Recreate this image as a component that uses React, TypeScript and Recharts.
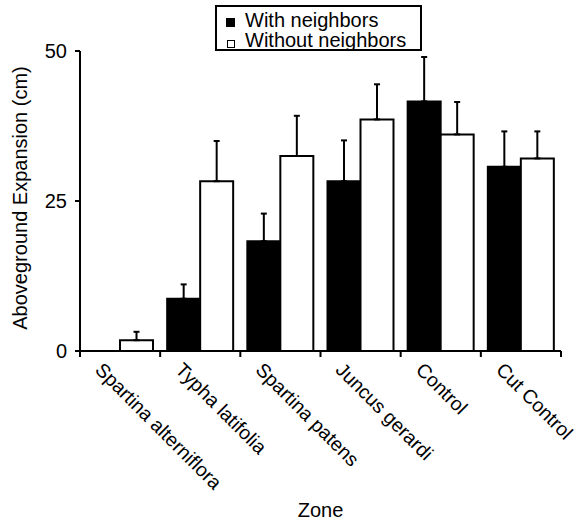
import React from 'react';
import { BarChart, Bar, XAxis, YAxis, ErrorBar, Legend, Label } from 'recharts';

const categories = ['Spartina alterniflora', 'Typha latifolia', 'Spartina patens', 'Juncus gerardi', 'Control', 'Cut Control'];
const withNeighbors = [0, 8.7, 18.3, 28.3, 41.6, 30.7];
const withNeighborsErr = [0, 2.4, 4.6, 6.8, 7.4, 5.9];
const withoutNeighbors = [1.8, 28.3, 32.5, 38.6, 36.1, 32.1];
const withoutNeighborsErr = [1.4, 6.7, 6.7, 5.85, 5.4, 4.5];
const yTicks = [0, 25, 50];

const data = categories.map((zone, i) => ({
  zone,
  withN: withNeighbors[i],
  withoutN: withoutNeighbors[i],
  withErr: [0, withNeighborsErr[i]],
  withoutErr: [0, withoutNeighborsErr[i]],
}));

const FONT = '"Liberation Sans", Arial, Helvetica, sans-serif';

const ZoneTick = (props: any) => {
  const { x, y, payload, index } = props;
  const half = payload && typeof payload.offset === 'number' ? payload.offset : 40;
  const left = x - half;
  const tx = x - 26;
  const ty = y + 20;
  return (
    <g>
      <line x1={left} y1={y} x2={left} y2={y + 6} stroke="#000" strokeWidth={2} />
      {index === categories.length - 1 && (
        <line x1={x + half} y1={y} x2={x + half} y2={y + 6} stroke="#000" strokeWidth={2} />
      )}
      <text
        x={tx}
        y={ty}
        transform={`rotate(45, ${tx}, ${ty})`}
        textAnchor="start"
        fontSize={19.5}
        fill="#000"
        fontFamily={FONT}
      >
        {payload.value}
      </text>
    </g>
  );
};

const YLabel = (props: any) => {
  const vb = props.viewBox || { x: 0, y: 51, width: 80, height: 300 };
  const x = vb.x + 27;
  const y = vb.y + vb.height / 2 - 3;
  return (
    <text
      x={x}
      y={y}
      transform={`rotate(-90, ${x}, ${y})`}
      textAnchor="middle"
      fontSize={20}
      fill="#000"
      fontFamily={FONT}
    >
      Aboveground Expansion (cm)
    </text>
  );
};

const renderLegend = (props: any) => {
  const items = props.payload || [];
  return (
    <div
      style={{
        boxSizing: 'border-box',
        width: 207,
        height: 46,
        border: '2px solid #000',
        background: '#fff',
        position: 'relative',
        fontSize: 20,
        lineHeight: '20px',
        color: '#000',
        fontFamily: FONT,
      }}
    >
      {items.map((it: any, i: number) => (
        <React.Fragment key={i}>
          <div
            style={{
              position: 'absolute',
              boxSizing: 'border-box',
              left: i === 0 ? 9 : 9.5,
              top: i === 0 ? 11 : 33,
              width: i === 0 ? 9 : 8,
              height: i === 0 ? 9 : 8,
              background: it.color,
              border: '1.5px solid #000',
            }}
          />
          <div style={{ position: 'absolute', left: 28, top: 3 + i * 20, whiteSpace: 'nowrap' }}>{it.value}</div>
        </React.Fragment>
      ))}
    </div>
  );
};

export default function App() {
  return (
    <div style={{ position: 'absolute', left: 0, top: 0, background: '#fff', fontFamily: FONT }}>
      <BarChart
        width={577}
        height={523}
        data={data}
        margin={{ top: 51, right: 16, left: 0, bottom: 6 }}
        barCategoryGap={7}
        barGap={0}
      >
        <XAxis
          dataKey="zone"
          height={166}
          tickLine={false}
          tickSize={0}
          tickMargin={0}
          interval={0}
          axisLine={{ stroke: '#000', strokeWidth: 2 }}
          tick={<ZoneTick />}
        >
          <Label value="Zone" position="insideBottom" offset={0} fill="#000" fontSize={20} fontFamily={FONT} />
        </XAxis>
        <YAxis
          width={80}
          domain={[0, 50]}
          ticks={yTicks}
          tickSize={5}
          tickMargin={8}
          axisLine={{ stroke: '#000', strokeWidth: 2 }}
          tickLine={{ stroke: '#000', strokeWidth: 2 }}
          tick={{ fill: '#000', fontSize: 20, fontFamily: FONT }}
        >
          <Label content={<YLabel />} />
        </YAxis>
        <Legend
          layout="horizontal"
          verticalAlign="middle"
          align="center"
          content={renderLegend}
          wrapperStyle={{ position: 'absolute', left: 215, top: 5, width: 207, height: 46 }}
        />
        <Bar dataKey="withN" name="With neighbors" fill="#000" stroke="#000" strokeWidth={2} isAnimationActive={false}>
          <ErrorBar dataKey="withErr" direction="y" width={3} stroke="#000" strokeWidth={2} isAnimationActive={false} />
        </Bar>
        <Bar dataKey="withoutN" name="Without neighbors" fill="#fff" stroke="#000" strokeWidth={2} isAnimationActive={false}>
          <ErrorBar dataKey="withoutErr" direction="y" width={3} stroke="#000" strokeWidth={2} isAnimationActive={false} />
        </Bar>
      </BarChart>
    </div>
  );
}
